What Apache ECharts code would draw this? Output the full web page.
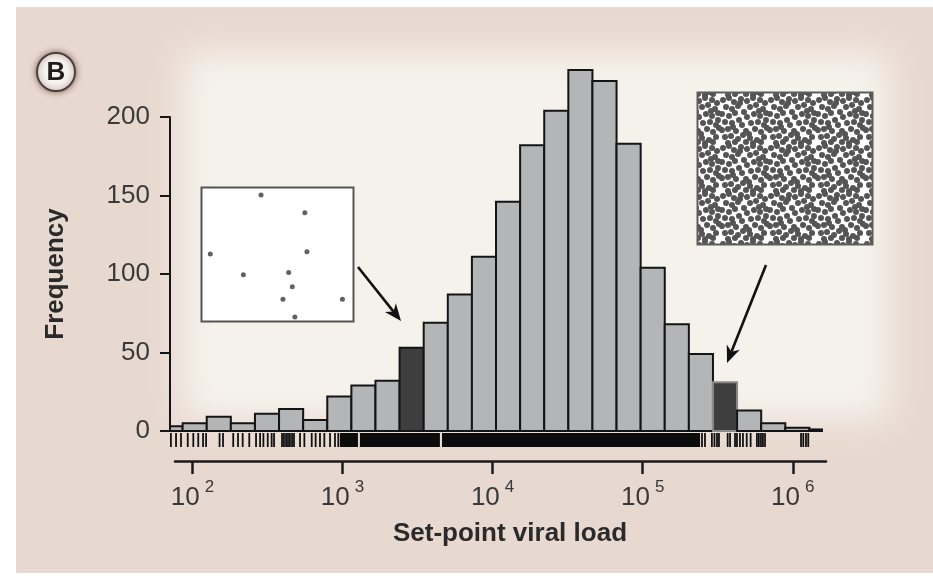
<!DOCTYPE html>
<html><head><meta charset="utf-8">
<script src="https://cdn.jsdelivr.net/npm/echarts@6.0.0/dist/echarts.min.js"></script>
<style>html,body{margin:0;padding:0;background:#fff}#c{width:933px;height:579px}</style>
</head><body><div id="c"></div>
<script>
// ---- data (x in log10 of set-point viral load) ----
const binEdges = [1.7744, 1.935, 2.0956, 2.2562, 2.4168, 2.5774, 2.738, 2.8986, 3.0592, 3.2198,
  3.3804, 3.541, 3.7016, 3.8622, 4.0228, 4.1834, 4.344, 4.5046, 4.6652, 4.8258,
  4.9864, 5.147, 5.3076, 5.4682, 5.6288, 5.7894, 5.95, 6.1106, 6.2712];
const counts = [3, 5, 9, 5, 11, 14, 7, 22, 29, 32, 53, 69, 87, 111, 146, 182, 204, 230, 223, 183, 104, 68, 49, 31, 13, 5, 2, 1];
const darkBins = [10, 23];
const rugTicks = [1.857, 1.891, 1.924, 1.969, 2.006, 2.039, 2.071, 2.091, 2.181, 2.204, 2.272, 2.304, 2.335, 2.379,
  2.424, 2.451, 2.473, 2.502, 2.528, 2.544, 2.597, 2.610, 2.624, 2.637, 2.650, 2.664, 2.677, 2.717, 2.746,
  2.795, 2.821, 2.850, 2.879, 2.917, 2.950, 2.972,
  5.395, 5.415, 5.461, 5.478, 5.495, 5.508, 5.566, 5.582, 5.615, 5.628, 5.648, 5.668, 5.693, 5.719,
  5.761, 5.774, 5.788, 5.801, 5.815, 6.055, 6.070, 6.088, 6.103];
const rugBlocks = [[2.983, 3.103], [3.116, 3.649], [3.663, 5.382]];
const decadeTicks = [2, 3, 4, 5, 6];
const yTickStep = 50;
const sparseX = [0.391, 0.681, 0.055, 0.695, 0.274, 0.574, 0.598, 0.536, 0.930, 0.615];
const sparseY = [0.948, 0.814, 0.504, 0.521, 0.347, 0.365, 0.258, 0.164, 0.164, 0.030];
const denseTile = [[3,4],[9,2],[14,6],[21,3],[27,5],[33,2],[40,4],[45,7],
  [6,11],[12,13],[18,10],[30,11],[36,9],[43,13],[20,7],[39,15],
  [2,18],[9,20],[15,17],[24,16],[27,21],[34,18],[40,20],[46,17],
  [5,26],[12,27],[19,24],[22,29],[31,27],[38,26],[44,29],[46,24],
  [2,34],[8,33],[16,35],[26,35],[35,33],[41,36],[47,32],[13,31],[29,38],
  [5,41],[11,40],[18,43],[23,39],[30,42],[37,44],[44,41],
  [8,47],[15,46],[26,46],[33,47],[41,46]];

const FONT = "'Liberation Sans', Arial, Helvetica, sans-serif";

// texture tile for the dense inset
const TS = 48;
const tile = document.createElement('canvas');
tile.width = TS; tile.height = TS;
(function(){
  const g = tile.getContext('2d');
  g.fillStyle = '#ffffff'; g.fillRect(0,0,TS,TS);
  g.fillStyle = '#555555';
  denseTile.forEach(p => {
    for (let ox=-TS; ox<=TS; ox+=TS) for (let oy=-TS; oy<=TS; oy+=TS) {
      g.beginPath(); g.arc(p[0]+ox, p[1]+oy, 3, 0, Math.PI*2); g.fill();
    }
  });
})();

function arrow(x1, y1, x2, y2) {
  const dx = x2-x1, dy = y2-y1, L = Math.hypot(dx, dy), ux = dx/L, uy = dy/L;
  const hl = 17, hw = 7;
  const bx = x2 - ux*hl, by = y2 - uy*hl;
  return [
    {type:'line', z:3, shape:{x1:x1, y1:y1, x2:bx+ux*5, y2:by+uy*5}, style:{stroke:'#111', lineWidth:2.6}},
    {type:'polygon', z:3, shape:{points:[[x2,y2],[bx-uy*hw, by+ux*hw],[bx+ux*5, by+uy*5],[bx+uy*hw, by-ux*hw]]}, style:{fill:'#111'}}
  ];
}

const xMin1 = 1.8508, xMax1 = 1.8508 + 652/150.1;
const xMin2 = 1.8841, xMax2 = 6.2212;
const OFF = 3000;

const chart = echarts.init(document.getElementById('c'), null, {renderer:'canvas'});
chart.setOption({
  animation: false,
  backgroundColor: '#ffffff',
  grid: [
    {left:170, width:652, top:117, height:314},
    {left:175, width:651, top:400, height:61},
    {left:202, width:151, top:188, height:133}
  ],
  xAxis: [
    {gridIndex:0, type:'value', min:xMin1, max:xMax1, axisLine:{show:true, onZero:false, lineStyle:{color:'#151515', width:2}},
      axisTick:{show:false}, axisLabel:{show:false}, splitLine:{show:false}},
    {gridIndex:1, type:'value', min:xMin2, max:xMax2, position:'bottom',
      axisLine:{show:true, lineStyle:{color:'#1a1a1a', width:2.5}},
      axisTick:{show:true, customValues:decadeTicks, length:13, lineStyle:{color:'#1a1a1a', width:2.5}},
      axisLabel:{show:true, customValues:decadeTicks, margin:16,
        formatter: v => '{b|10}{s|' + Math.round(v) + '}',
        rich:{b:{fontSize:26, fontFamily:FONT, color:'#383838', lineHeight:30, padding:[12,0,0,0]},
              s:{fontSize:17, fontFamily:FONT, color:'#383838', verticalAlign:'top', lineHeight:17, padding:[2,0,0,5]}}},
      splitLine:{show:false}},
    {gridIndex:2, type:'value', min:0, max:1, show:false}
  ],
  yAxis: [
    {gridIndex:0, type:'value', min:0, max:200, interval:yTickStep,
      axisLine:{show:true, lineStyle:{color:'#151515', width:2}},
      axisTick:{show:true, length:10, lineStyle:{color:'#151515', width:2}},
      axisLabel:{fontSize:26, fontFamily:FONT, color:'#3a3a3a', margin:20},
      splitLine:{show:false},
      name:'Frequency', nameLocation:'middle', nameRotate:90, nameGap:101,
      nameTextStyle:{fontSize:26, fontWeight:'bold', fontFamily:FONT, color:'#2a2a2a'}},
    {gridIndex:1, type:'value', min:0, max:1, show:false},
    {gridIndex:2, type:'value', min:0, max:1, show:false}
  ],
  graphic: [
    {type:'rect', z:-3, shape:{x:16, y:7, width:917, height:566}, style:{fill:'#e8d9d0'}},
    {type:'rect', z:-2, shape:{x:182 - OFF, y:52, width:708, height:368, r:16},
      style:{fill:'#f5f2ec', shadowBlur:34, shadowColor:'#f5f2ec', shadowOffsetX:OFF, shadowOffsetY:0}},
    {type:'rect', z:1, shape:{x:201.5, y:187.5, width:152, height:134}, style:{fill:'#ffffff', stroke:'#555', lineWidth:2}},
    {type:'rect', z:1, shape:{x:697.5, y:92.5, width:175, height:152}, style:{fill:{image:tile, repeat:'repeat'}, stroke:'#5c5c5c', lineWidth:2}},
    ...arrow(358, 267, 401, 321),
    ...arrow(766, 265, 727, 363),
    {type:'circle', z:3, shape:{cx:56, cy:72, r:19}, style:{fill:'#f7f4ef', stroke:'#4e3f3b', lineWidth:2, shadowBlur:6, shadowColor:'rgba(70,40,30,0.6)'}},
    {type:'text', z:4, x:56, y:73, style:{text:'B', fontSize:26, fontWeight:'bold', fontFamily:FONT, fill:'#1e1e1e', textAlign:'center', textVerticalAlign:'middle'}},
    {type:'text', z:4, x:510, y:534, style:{text:'Set-point viral load', fontSize:26, fontWeight:'bold', fontFamily:FONT, fill:'#2a2a2a', textAlign:'center', textVerticalAlign:'middle'}}
  ],
  series: [
    {type:'custom', xAxisIndex:0, yAxisIndex:0, z:2,
      data: counts.map((c, i) => [binEdges[i], binEdges[i+1], c, i]),
      renderItem: function(params, api) {
        const l = api.value(0), r = api.value(1), v = api.value(2), idx = api.value(3);
        const p0 = api.coord([l, 0]), p1 = api.coord([r, v]);
        const cs = params.coordSys;
        const x0 = Math.max(p0[0], cs.x), x1 = Math.min(p1[0], cs.x + cs.width);
        if (x1 <= x0) return null;
        const dark = darkBins.indexOf(idx) >= 0;
        return {type:'rect', shape:{x:x0, y:p1[1], width:x1-x0, height:p0[1]-p1[1]},
          style:{fill: dark ? '#3e3e3e' : '#b4b5b7', stroke: idx === 23 ? '#8a8a8a' : '#141414', lineWidth:2}};
      }},
    {type:'custom', xAxisIndex:0, yAxisIndex:0, z:2,
      data: rugTicks.map(v => [v]),
      renderItem: function(params, api) {
        const p = api.coord([api.value(0), 0]);
        return {type:'line', shape:{x1:p[0], y1:p[1]+2, x2:p[0], y2:p[1]+16}, style:{stroke:'#111', lineWidth:1.8}};
      }},
    {type:'custom', xAxisIndex:0, yAxisIndex:0, z:2,
      data: rugBlocks,
      renderItem: function(params, api) {
        const a = api.coord([api.value(0), 0]), b = api.coord([api.value(1), 0]);
        return {type:'rect', shape:{x:a[0], y:a[1]+2, width:b[0]-a[0], height:14}, style:{fill:'#0c0c0c'}};
      }},
    {type:'scatter', xAxisIndex:2, yAxisIndex:2, z:5, symbolSize:5,
      itemStyle:{color:'#3a3a3a'},
      data: sparseX.map((x, i) => [x, sparseY[i]])}
  ]
});
</script></body></html>
